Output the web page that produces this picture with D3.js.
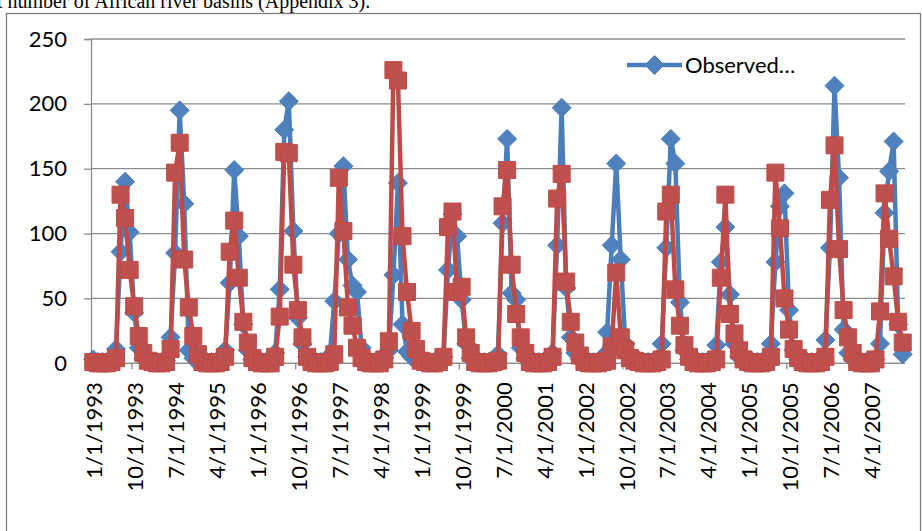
<!DOCTYPE html>
<html>
<head>
<meta charset="utf-8">
<script src="https://cdn.jsdelivr.net/npm/d3@7/dist/d3.min.js"></script>
<style>
  body { margin: 0; background: #fff; }
  svg { display: block; }
</style>
</head>
<body>
<div id="chart"></div>
<script>
// monthly values, Jan 1993 .. Nov 2007 (one row per year)
var observed = [
  3, 1, 1, 1, 2, 11, 86, 140, 101, 39, 12, 4,      // 1993
  2, 1, 1, 1, 2, 20, 85, 195, 123, 10, 4, 2,       // 1994
  2, 1, 1, 1, 4, 10, 62, 149, 98, 30, 10, 3,       // 1995
  2, 1, 1, 1, 8, 57, 180, 202, 102, 35, 15, 5,     // 1996
  2, 1, 1, 1, 6, 48, 100, 152, 80, 60, 55, 12,     // 1997
  3, 1, 1, 1, 4, 10, 68, 139, 30, 9, 5, 3,         // 1998
  3, 1, 1, 1, 2, 5, 72, 115, 98, 49, 15, 4,        // 1999
  2, 1, 1, 1, 2, 7, 108, 173, 54, 49, 12, 4,       // 2000
  2, 1, 1, 1, 2, 8, 91, 197, 58, 20, 8, 3,         // 2001
  2, 1, 1, 1, 5, 24, 91, 154, 80, 15, 5, 2,        // 2002
  2, 1, 1, 1, 3, 15, 89, 173, 154, 47, 10, 3,      // 2003
  2, 1, 1, 1, 2, 14, 78, 105, 53, 15, 5, 2,        // 2004
  2, 1, 1, 1, 2, 15, 78, 121, 131, 41, 10, 3,      // 2005
  2, 1, 1, 1, 2, 18, 89, 214, 143, 26, 8, 3,       // 2006
  2, 1, 1, 1, 3, 15, 116, 148, 171, 30, 7          // 2007
];
var simulated = [
  1, 0, 0, 0, 1, 4, 130, 112, 72, 44, 21, 8,
  2, 1, 0, 0, 1, 11, 147, 170, 80, 43, 21, 7,
  1, 0, 0, 0, 1, 5, 86, 110, 66, 32, 16, 4,
  1, 0, 0, 0, 5, 36, 163, 162, 76, 41, 20, 5,
  1, 0, 0, 0, 1, 7, 143, 102, 43, 29, 12, 4,
  1, 0, 0, 0, 3, 17, 226, 218, 98, 55, 25, 11,
  2, 1, 0, 0, 1, 5, 105, 117, 55, 59, 20, 8,
  1, 0, 0, 0, 1, 2, 121, 149, 76, 38, 20, 8,
  1, 0, 0, 0, 1, 5, 127, 146, 63, 32, 16, 6,
  1, 0, 0, 0, 1, 2, 13, 70, 20, 10, 4, 2,
  1, 0, 0, 0, 1, 3, 117, 130, 57, 29, 14, 5,
  1, 0, 0, 0, 1, 3, 66, 130, 38, 23, 10, 3,
  1, 0, 0, 0, 1, 5, 147, 104, 50, 26, 11, 4,
  1, 0, 0, 0, 1, 5, 126, 168, 88, 41, 20, 8,
  1, 0, 0, 0, 3, 40, 131, 96, 67, 32, 16
];
var tickLabels = ["1/1/1993", "10/1/1993", "7/1/1994", "4/1/1995", "1/1/1996",
  "10/1/1996", "7/1/1997", "4/1/1998", "1/1/1999", "10/1/1999", "7/1/2000",
  "4/1/2001", "1/1/2002", "10/1/2002", "7/1/2003", "4/1/2004", "1/1/2005",
  "10/1/2005", "7/1/2006", "4/1/2007"];
var yTicks = [0, 50, 100, 150, 200, 250];
var legendName = "Observed\u2026";
var caption = "t number of African river basins (Appendix 3).";

var width = 922, height = 531;
var plot = {left: 91, right: 905, top: 39, bottom: 363.3};
var labelFont = "Lato, 'Open Sans', sans-serif";
var blue = "#4a7ebb", blueFill = "#4f81bd";
var red = "#be4b48", redFill = "#c0504d";
var gridColor = "#8c8c8c";

// category labels m/1/yyyy for each month
var months = observed.map(function (d, i) {
    return (i % 12 + 1) + "/1/" + (1993 + Math.floor(i / 12));
});

var svg = d3.select("#chart").append("svg")
    .attr("width", width)
    .attr("height", height);

// caption text left over from the page above the chart
svg.append("text")
    .attr("x", -3)
    .attr("y", 8)
    .style("font-family", "'Liberation Serif', 'Times New Roman', serif")
    .style("font-size", "20px")
    .text(caption);

// chart frame
svg.append("rect")
    .attr("x", 6.5)
    .attr("y", 13.5)
    .attr("width", 914)
    .attr("height", 540)
    .attr("fill", "none")
    .attr("stroke", "#7f7f7f")
    .attr("stroke-width", 1.3);

var x = d3.scaleBand()
    .domain(months)
    .range([plot.left, plot.right]);
var y = d3.scaleLinear()
    .domain([0, 250])
    .range([plot.bottom, plot.top]);
var cx = function (i) { return x(months[i]) + x.bandwidth() / 2; };

// gridlines
svg.append("g")
    .selectAll("line")
    .data(yTicks)
    .enter()
    .append("line")
    .attr("x1", plot.left)
    .attr("x2", plot.right)
    .attr("y1", function (d) { return y(d); })
    .attr("y2", function (d) { return y(d); })
    .attr("stroke", gridColor)
    .attr("stroke-width", 1.3);

// y axis
var yAxis = svg.append("g")
    .attr("transform", "translate(" + plot.left + ",0)")
    .call(d3.axisLeft(y).tickValues(yTicks).tickSize(7).tickPadding(17));
yAxis.select(".domain").attr("stroke", gridColor).attr("stroke-width", 1.3);
yAxis.selectAll(".tick line").attr("stroke", gridColor).attr("stroke-width", 1.3);
yAxis.selectAll(".tick text")
    .style("font-family", labelFont)
    .style("font-size", "22px")
    .attr("fill", "#000");

// x axis: line, tick marks every 9 months, rotated labels
var tickIdx = tickLabels.map(function (d) { return months.indexOf(d); });
var xg = svg.append("g");
xg.append("line")
    .attr("x1", plot.left).attr("x2", plot.right)
    .attr("y1", plot.bottom).attr("y2", plot.bottom)
    .attr("stroke", gridColor).attr("stroke-width", 1.3);
xg.selectAll(".xtick")
    .data(tickIdx)
    .enter()
    .append("line")
    .attr("class", "xtick")
    .attr("x1", function (i) { return x(months[i]); })
    .attr("x2", function (i) { return x(months[i]); })
    .attr("y1", plot.bottom)
    .attr("y2", plot.bottom + 6)
    .attr("stroke", gridColor).attr("stroke-width", 1.3);
xg.selectAll(".xlabel")
    .data(tickIdx)
    .enter()
    .append("text")
    .attr("class", "xlabel")
    .attr("transform", function (i) {
        return "translate(" + (cx(i) + 1.5) + "," + (plot.bottom + 19) + ") rotate(-90)";
    })
    .attr("text-anchor", "end")
    .attr("dy", "0.35em")
    .style("font-family", labelFont)
    .style("font-size", "22px")
    .text(function (i, k) { return tickLabels[k]; });

var line = d3.line()
    .x(function (d, i) { return cx(i); })
    .y(function (d) { return y(d); });

function drawSeries(values, stroke, fill, marker) {
    svg.append("path")
        .datum(values)
        .attr("d", line)
        .attr("fill", "none")
        .attr("stroke", stroke)
        .attr("stroke-width", 4.5)
        .attr("stroke-linejoin", "round");
    svg.append("g")
        .selectAll("path")
        .data(values)
        .enter()
        .append("path")
        .attr("d", marker)
        .attr("transform", function (d, i) { return "translate(" + cx(i) + "," + y(d) + ")"; })
        .attr("fill", fill)
        .attr("stroke", stroke)
        .attr("stroke-width", 1);
}

var diamond = "M0,-9.5L9.5,0L0,9.5L-9.5,0Z";
var square = "M-8.5,-8.5H8.5V8.5H-8.5Z";

drawSeries(observed, blue, blueFill, diamond);
drawSeries(simulated, red, redFill, square);

// legend (only the first entry fits in the frame)
var lg = svg.append("g").attr("transform", "translate(627,65)");
lg.append("line")
    .attr("x1", 0).attr("x2", 55)
    .attr("stroke", blue).attr("stroke-width", 4.5);
lg.append("path")
    .attr("d", diamond)
    .attr("transform", "translate(27.5,0)")
    .attr("fill", blueFill)
    .attr("stroke", blue);
lg.append("text")
    .attr("x", 58)
    .attr("dy", "0.35em")
    .style("font-family", labelFont)
    .style("font-size", "22px")
    .text(legendName);
</script>
</body>
</html>
